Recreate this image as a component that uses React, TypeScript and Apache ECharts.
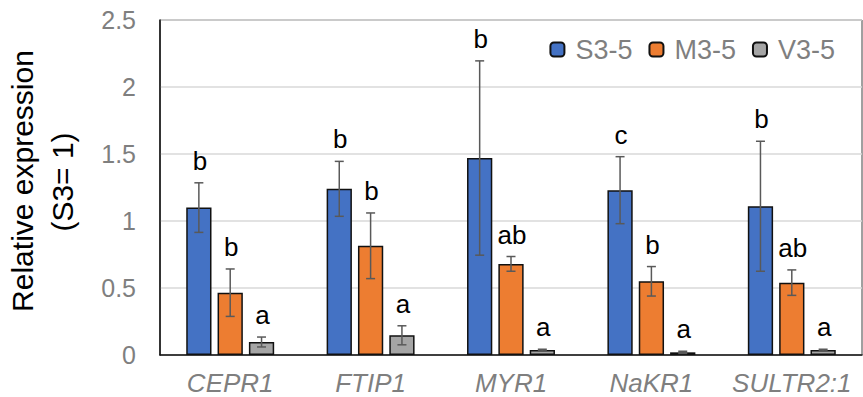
import React, { useEffect, useRef } from "react";
import * as echarts from "echarts";

const categories = ["CEPR1", "FTIP1", "MYR1", "NaKR1", "SULTR2:1"];
const seriesNames = ["S3-5", "M3-5", "V3-5"];
const colors = ["#4472C4", "#ED7D31", "#A5A5A5"];
const s35Values = [1.1, 1.24, 1.47, 1.23, 1.11];
const m35Values = [0.465, 0.815, 0.68, 0.55, 0.54];
const v35Values = [0.097, 0.147, 0.037, 0.02, 0.037];
const s35Errors = [0.185, 0.205, 0.725, 0.25, 0.485];
const m35Errors = [0.177, 0.245, 0.055, 0.11, 0.095];
const v35Errors = [0.037, 0.071, 0.006, 0.008, 0.006];
const s35Letters = ["b", "b", "b", "c", "b"];
const m35Letters = ["b", "b", "ab", "b", "ab"];
const v35Letters = ["a", "a", "a", "a", "a"];
const yTicks = { min: 0, max: 2.5, interval: 0.5 };
const yTitleLines = ["Relative expression", "(S3= 1)"];

const FONT = "'Liberation Sans', Arial, sans-serif";
const BAR_FRAC = 0.18;
const GAP_FRAC = 0.24;

export default function App() {
  const ref = useRef<HTMLDivElement>(null);
  useEffect(() => {
    document.body.style.margin = "0";
    const chart = echarts.init(ref.current!, null, { renderer: "svg" });
    const values = [s35Values, m35Values, v35Values];
    const errors = [s35Errors, m35Errors, v35Errors];
    const letters = [s35Letters, m35Letters, v35Letters];

    const barSeries = seriesNames.map((name, i) => ({
      name,
      type: "bar",
      data: values[i],
      barWidth: BAR_FRAC * 100 + "%",
      barGap: GAP_FRAC * 100 + "%",
      itemStyle: { color: colors[i], borderColor: "#111", borderWidth: 1.5 },
      z: 2,
    }));

    const errSeries = seriesNames.map((name, i) => ({
      name: "err-" + name,
      type: "custom",
      z: 5,
      data: values[i].map((v, k) => [k, v, errors[i][k]]),
      encode: { x: 0, y: 1 },
      renderItem: (params: any, api: any) => {
        const k = api.value(0);
        const mean = api.value(1);
        const err = api.value(2);
        const band = api.size([1, 0])[0];
        const off = (i - 1) * band * BAR_FRAC * (1 + GAP_FRAC);
        const top = api.coord([k, mean + err]);
        const bot = api.coord([k, Math.max(mean - err, 0)]);
        const x = top[0] + off;
        const cap = 4.5;
        const st = { stroke: "#595959", lineWidth: 1.5 };
        return {
          type: "group",
          children: [
            { type: "line", shape: { x1: x, y1: top[1], x2: x, y2: bot[1] }, style: st },
            { type: "line", shape: { x1: x - cap, y1: top[1], x2: x + cap, y2: top[1] }, style: st },
            { type: "line", shape: { x1: x - cap, y1: bot[1], x2: x + cap, y2: bot[1] }, style: st },
            {
              type: "text",
              x: x + 1,
              y: top[1] - 9,
              style: {
                text: letters[i][params.dataIndex],
                fill: "#000",
                fontSize: 26,
                fontFamily: FONT,
                align: "center",
                verticalAlign: "bottom",
              },
            },
          ],
        };
      },
    }));

    chart.setOption({
      animation: false,
      graphic: [
        {
          type: "text",
          x: 22,
          y: 181,
          rotation: Math.PI / 2,
          style: {
            text: yTitleLines[0],
            fill: "#000",
            fontSize: 30,
            fontFamily: FONT,
            align: "center",
            verticalAlign: "middle",
          },
        },
        {
          type: "text",
          x: 62,
          y: 182,
          rotation: Math.PI / 2,
          style: {
            text: yTitleLines[1],
            fill: "#000",
            fontSize: 30,
            fontFamily: FONT,
            align: "center",
            verticalAlign: "middle",
          },
        },
      ],
      grid: {
        left: 160,
        right: 1,
        top: 20,
        bottom: 42,
        show: true,
        borderColor: "#404040",
        borderWidth: 1,
      },
      legend: {
        data: seriesNames,
        right: 28,
        top: 36,
        padding: 0,
        itemWidth: 14,
        itemHeight: 14,
        itemGap: 16,
        textStyle: { color: "#7f7f7f", fontSize: 27, fontFamily: FONT, padding: [0, 0, 0, 6] },
      },
      xAxis: {
        type: "category",
        data: categories,
        axisTick: { show: false },
        axisLine: { lineStyle: { color: "#111", width: 1.5 } },
        axisLabel: {
          interval: 0,
          color: "#7f7f7f",
          fontSize: 26,
          fontStyle: "italic",
          fontFamily: FONT,
          margin: 15,
        },
      },
      yAxis: {
        type: "value",
        min: yTicks.min,
        max: yTicks.max,
        interval: yTicks.interval,
        axisLine: { show: true, lineStyle: { color: "#111", width: 1.5 } },
        axisTick: { show: false },
        splitLine: { lineStyle: { color: "#d9d9d9", width: 1.5 } },
        axisLabel: { color: "#7f7f7f", fontSize: 25, fontFamily: FONT, margin: 24 },
      },
      series: [...barSeries, ...errSeries],
    });
    return () => chart.dispose();
  }, []);
  return (
    <div
      ref={ref}
      style={{ position: "fixed", left: 0, top: 0, width: 863, height: 397, background: "#fff" }}
    />
  );
}
